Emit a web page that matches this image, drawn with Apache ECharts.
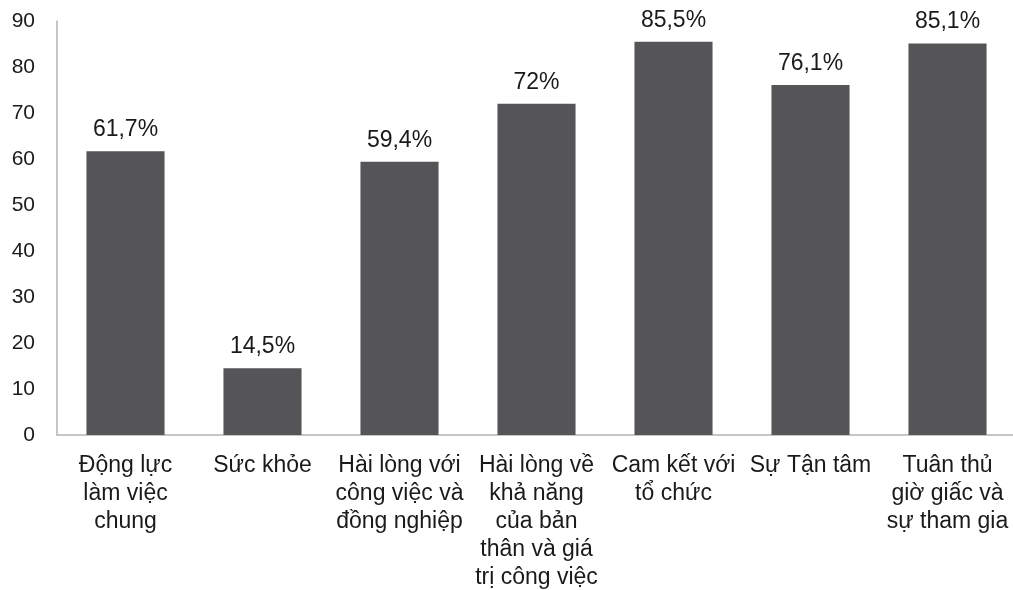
<!DOCTYPE html>
<html>
<head>
<meta charset="utf-8">
<script src="https://cdn.jsdelivr.net/npm/echarts@6/dist/echarts.min.js"></script>
<style>
  html, body { margin: 0; padding: 0; background: #fff; }
  #chart { width: 1013px; height: 590px; }
</style>
</head>
<body>
<div id="chart"></div>
<script>
// Danh mục và giá trị (%)
const categories = [
    'Động lực\nlàm việc\nchung',
    'Sức khỏe',
    'Hài lòng với\ncông việc và\nđồng nghiệp',
    'Hài lòng về\nkhả năng\ncủa bản\nthân và giá\ntrị công việc',
    'Cam kết với\ntổ chức',
    'Sự Tận tâm',
    'Tuân thủ\ngiờ giấc và\nsự tham gia'
];
const values = [61.7, 14.5, 59.4, 72, 85.5, 76.1, 85.1];
const valueLabels = ['61,7%', '14,5%', '59,4%', '72%', '85,5%', '76,1%', '85,1%'];

const chart = echarts.init(document.getElementById('chart'));
const font = 'Liberation Sans, Arial, sans-serif';

chart.setOption({
    animation: false,
    backgroundColor: '#fff',
    grid: { left: 57, top: 21, width: 959, height: 414, outerBoundsMode: 'none', containLabel: false },
    xAxis: {
        type: 'category',
        data: categories,
        axisLine: { lineStyle: { color: '#b4b4b4', width: 1.5 } },
        axisTick: { show: false },
        axisLabel: { color: '#1a1a1a', fontSize: 23, fontFamily: font, lineHeight: 28, margin: 17, interval: 0 }
    },
    yAxis: {
        type: 'value',
        min: 0, max: 90, interval: 10,
        axisLine: { show: true, lineStyle: { color: '#b4b4b4', width: 1.5 } },
        axisTick: { show: false },
        splitLine: { show: false },
        axisLabel: { color: '#1a1a1a', fontSize: 21, fontFamily: font, margin: 22 }
    },
    series: [{
        type: 'bar',
        data: values,
        barWidth: '57%',
        itemStyle: { color: '#555558' },
        label: {
            show: true,
            position: 'top',
            distance: 10,
            color: '#1a1a1a',
            fontSize: 23,
            fontFamily: font,
            formatter: p => valueLabels[p.dataIndex]
        }
    }]
});
</script>
</body>
</html>
